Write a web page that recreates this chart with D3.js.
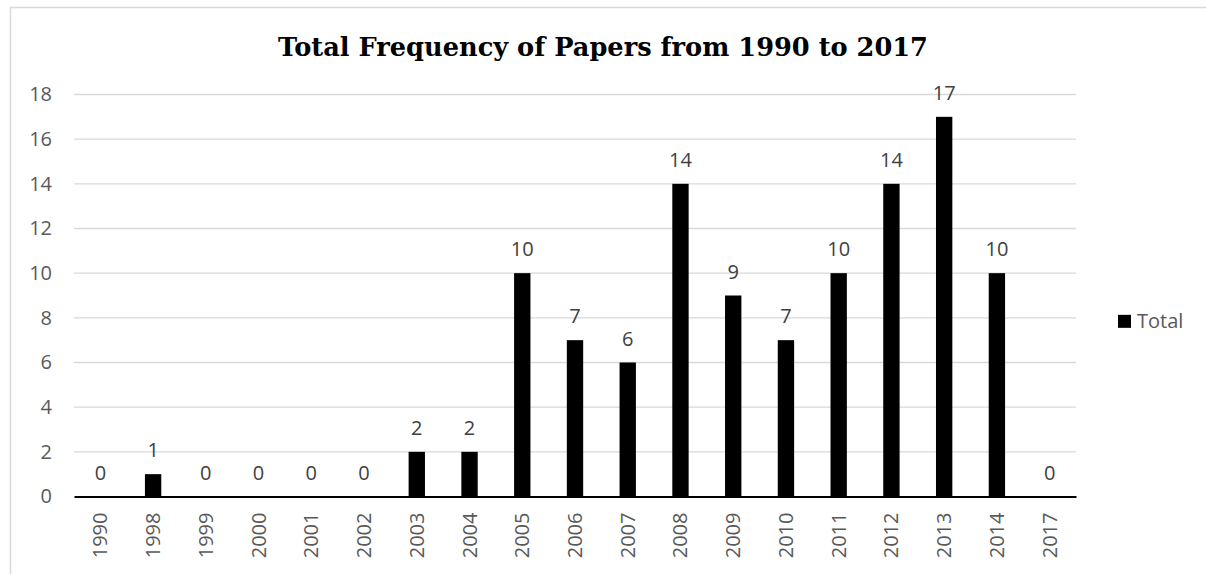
<!DOCTYPE html>
<html>
<head>
<meta charset="utf-8">
<script src="https://cdn.jsdelivr.net/npm/d3@7"></script>
<style>
  body { margin: 0; background: #fff; }
  text { font-family: "Open Sans", "Noto Sans", sans-serif; }
</style>
</head>
<body>
<script>
// papers per year
var years = ['1990','1998','1999','2000','2001','2002','2003','2004','2005','2006',
             '2007','2008','2009','2010','2011','2012','2013','2014','2017'];
var totals = [0,1,0,0,0,0,2,2,10,7,6,14,9,7,10,14,17,10,0];
var yTicks = [0,2,4,6,8,10,12,14,16,18];
var seriesName = 'Total';
var titleText = 'Total Frequency of Papers from 1990 to 2017';

var width = 1206, height = 574;
var margin = {left:74, right:130, top:94.5, bottom:77.5};
var fs = "20px";

var svg = d3.select("body").append("svg").attr("width",width).attr("height",height);

// chart frame
svg.append("rect")
   .attr("x",10.5).attr("y",7.5).attr("width",1210).attr("height",600)
   .attr("fill","none").attr("stroke","#d9d9d9").attr("stroke-width",1.5);

var x = d3.scaleBand()
          .domain(years)
          .range([margin.left, width - margin.right])
          .paddingInner(0.69).paddingOuter(0.345);

var y = d3.scaleLinear()
          .domain([0,18])
          .range([height - margin.bottom, margin.top]);

// gridlines
svg.append("g")
   .selectAll("line").data(yTicks.slice(1)).enter().append("line")
   .attr("x1",margin.left).attr("x2",width - margin.right)
   .attr("y1",function(d){ return y(d); }).attr("y2",function(d){ return y(d); })
   .attr("stroke","#d9d9d9").attr("stroke-width",1.3);

// y axis labels
var yAxis = d3.axisLeft(y).tickValues(yTicks).tickSize(0).tickPadding(22);
var gy = svg.append("g").attr("transform","translate("+margin.left+",0)").call(yAxis);
gy.select(".domain").remove();
gy.selectAll("text").attr("fill","#595959").style("font-size",fs)
  .style("font-family","'Open Sans', sans-serif");

// bars
svg.append("g")
   .selectAll("rect").data(totals).enter().append("rect")
   .attr("x",function(d,i){ return x(years[i]); })
   .attr("width",x.bandwidth())
   .attr("y",function(d){ return y(d); })
   .attr("height",function(d){ return y(0) - y(d); })
   .attr("fill","#000");

// value labels
svg.append("g")
   .selectAll("text").data(totals).enter().append("text")
   .attr("x",function(d,i){ return x(years[i]) + x.bandwidth()/2; })
   .attr("y",function(d){ return y(d) - 17; })
   .attr("text-anchor","middle")
   .attr("fill","#404040").style("font-size",fs)
   .text(function(d){ return d; });

// x axis
var xAxis = d3.axisBottom(x).tickSize(0).tickPadding(0);
var gx = svg.append("g").attr("transform","translate(0,"+y(0)+")").call(xAxis);
gx.select(".domain").attr("stroke","#000").attr("stroke-width",1.8);
gx.selectAll("text")
  .attr("fill","#595959").style("font-size",fs)
  .style("font-family","'Open Sans', sans-serif")
  .attr("text-anchor","end")
  .attr("dy","0.35em")
  .attr("transform","translate(0,16) rotate(-90)")
  .attr("x",0).attr("y",0);

// legend
var lg = svg.append("g");
lg.append("rect").attr("x",1118).attr("y",y(8)-3).attr("width",13).attr("height",13).attr("fill","#000");
lg.append("text").attr("x",1137).attr("y",y(8)+3.5).attr("dy","0.35em")
  .attr("fill","#595959").style("font-size",fs).text(seriesName);

// title
var t = svg.append("text")
   .attr("x",603).attr("y",56)
   .attr("text-anchor","middle")
   .style("font-family","'DejaVu Serif', Georgia, serif")
   .style("font-weight","bold")
   .style("font-size","24px")
   .attr("fill","#000")
   .text(titleText);
var w = t.node().getComputedTextLength();
t.style("font-size", (24*650/w).toFixed(2)+"px");
</script>
</body>
</html>
